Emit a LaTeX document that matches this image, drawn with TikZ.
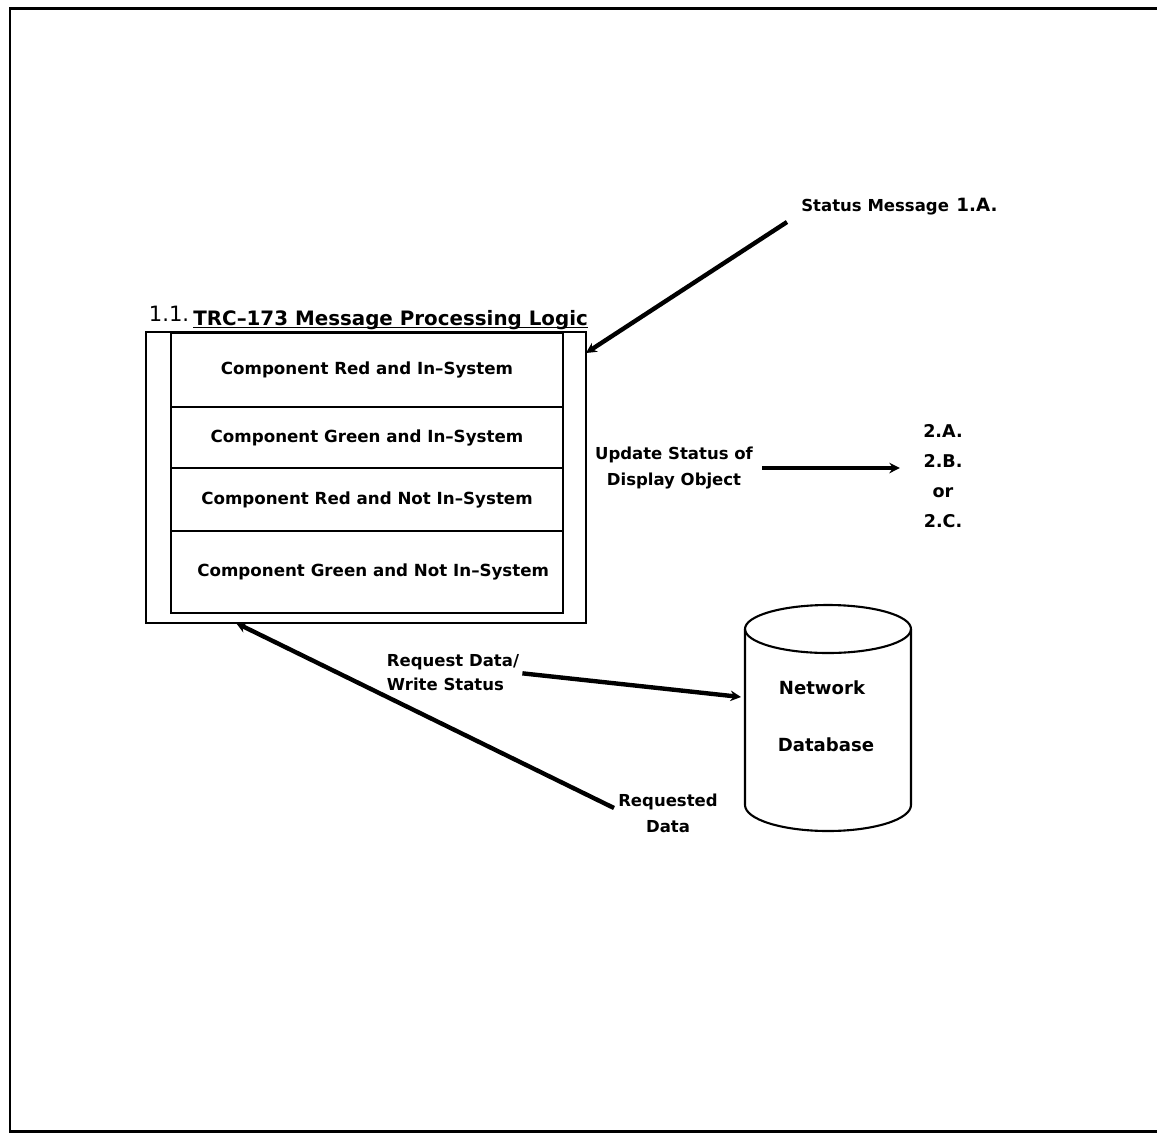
\documentclass[tikz,border=0pt]{standalone}
\usepackage{fontspec}
\setmainfont{DejaVu Sans}
\usetikzlibrary{arrows.meta,positioning}
\tikzset{
  lbl/.style={font=\bfseries\fontsize{9.4}{#1}\selectfont, inner sep=0pt, align=center},
  lbl/.default=14pt,
  rowbox/.style={draw, line width=1.2pt, minimum width=7.84cm, inner sep=0pt, outer sep=0pt,
    font=\bfseries\fontsize{9.5}{11}\selectfont},
  flow/.style={line width=2.5pt, -{Stealth[length=6pt,width=6pt]}},
}
\begin{document}
\begin{tikzpicture}[x=0.02cm, y=-0.02cm]
		\useasboundingbox (0,0) rectangle (1157,1134);
		% marco de la pagina
		\draw[line width=1.7pt] (1157,8) -- (10,8) -- (10,1131) -- (1157,1131);
		
		% bloque 1.1
		\node[draw, line width=1.2pt, minimum width=8.8cm, minimum height=5.82cm, inner sep=0pt, outer sep=0pt] (logic) at (366,477.5) {};
		\node[rowbox, minimum height=1.48cm] (redin) at (367,370) {Component Red and In–System};
		\node[rowbox, minimum height=1.22cm] (greenin) at (367,437.5) {Component Green and In–System};
		\node[rowbox, minimum height=1.26cm] (rednot) at (367,499.5) {Component Red and Not In–System};
		\node[rowbox, minimum height=1.64cm] (greennot) at (367,572) {\hspace{0.25cm}Component Green and Not In–System};
		\node[font=\bfseries\fontsize{11.3}{13}\selectfont, inner sep=0pt, anchor=base west] (title) at (193,325) {TRC–173 Message Processing Logic};
		\draw[line width=0.9pt] ([yshift=-1.5pt]title.base west) -- ([yshift=-1.5pt]title.base east);
		\node[font=\fontsize{12}{14}\selectfont, inner sep=0pt, anchor=base east] (num) at ([xshift=-2pt, yshift=2pt]title.base west) {1.1.};
		
		% mensaje de estado
		\node[lbl, anchor=west] (status) at (801,207) {Status Message\hspace{0.45em}{\fontsize{10.4}{13}\selectfont 1.A.}};
		\coordinate (sm-tail) at (787,222);
		\draw[flow] (sm-tail) -- ([yshift=-0.42cm]logic.north east);
		
		% actualizar objeto
		\node[lbl=14.7pt] (upd) at (674,468) {Update Status of\\Display Object};
		\node[font=\bfseries\fontsize{10}{17}\selectfont, inner sep=0pt, align=center] (targets) at (943,476) {2.A.\\2.B.\\or\\2.C.};
		\draw[flow, shorten <=0.18cm, shorten >=0.46cm] (upd.east) -- (upd.east -| targets.west);
		
		% base de datos
		\draw[line width=1.2pt] (828,629) ellipse [x radius=83, y radius=24];
		\draw[line width=1.2pt] (745,629) -- (745,805) arc[start angle=180, end angle=0, x radius=83, y radius=26] -- (911,629);
		\node[font=\bfseries\fontsize{10.3}{12}\selectfont, inner sep=0pt] (net) at (822,688) {Network};
		\node[font=\bfseries\fontsize{10.3}{12}\selectfont, inner sep=0pt] (dbase) at (826,745) {Database};
		\coordinate (db-in) at (741,697);
		
		\node[lbl=13.6pt, align=left] (req) at (453,673) {Request Data/\\Write Status};
		\draw[flow, shorten <=0.06cm] (req.east) -- (db-in);
		
		\node[lbl=14.7pt] (rqd) at (668,813) {Requested\\Data};
		\coordinate (rqd-tail) at (614,808);
		\draw[flow] (rqd-tail) -- ([xshift=1.8cm]logic.south west);
		
	\end{tikzpicture}
\end{document}
